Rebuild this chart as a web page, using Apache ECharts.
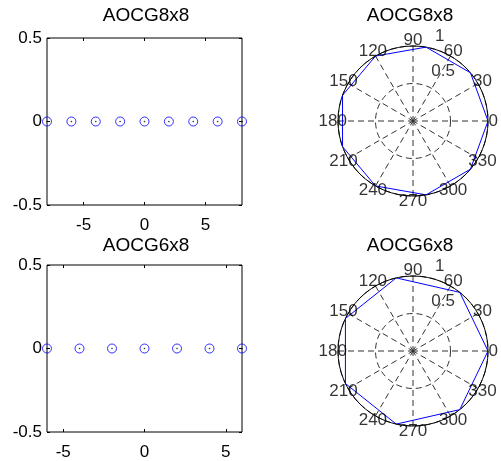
<!DOCTYPE html>
<html>
<head>
<meta charset="utf-8">
<script src="https://cdn.jsdelivr.net/npm/echarts@6/dist/echarts.min.js"></script>
<style>
  html, body { margin: 0; padding: 0; background: #fff; }
  #main { width: 501px; height: 461px; }
</style>
</head>
<body>
<div id="main"></div>
<script>
// values
const titles = ['AOCG8x8', 'AOCG6x8'];

const xTop = [-8, -6, -4, -2, 0, 2, 4, 6, 8];
const yTop = [0, 0, 0, 0, 0, 0, 0, 0, 0];
const xBot = [-6, -4, -2, 0, 2, 4, 6];
const yBot = [0, 0, 0, 0, 0, 0, 0];

const thetaTop = [0, 40, 80, 120, 160, 200, 240, 280, 320, 360];
const rhoTop = [1, 1, 1, 1, 1, 1, 1, 1, 1, 1];
const thetaBot = [0, 51.4, 102.9, 154.3, 205.7, 257.1, 308.6, 360];
const rhoBot = [1, 1, 1, 1, 1, 1, 1, 1];

const xTicks = [-5, 0, 5];
const yTicks = [-0.5, 0, 0.5];
const angleTicks = [0, 30, 60, 90, 120, 150, 180, 210, 240, 270, 300, 330];
const rhoTicks = [0.5, 1];

const font = 'Liberation Sans, Arial, Helvetica, sans-serif';
const fs = 17;

const zip = (a, b) => a.map((v, i) => [v, b[i]]);

// one cartesian panel = bottom/top x axes + left/right y axes, ticks inside
function cartAxes(gi, xmax) {
    const xa = [];
    const ya = [];
    ['bottom', 'top'].forEach(pos => {
        xa.push({
            type: 'value', gridIndex: gi, position: pos, min: -xmax, max: xmax,
            axisLine: { show: false, onZero: false },
            splitLine: { show: false },
            axisTick: { show: true, inside: true, length: 3, customValues: xTicks, lineStyle: { color: '#000' } },
            axisLabel: {
                show: pos === 'bottom', customValues: xTicks, margin: 12,
                color: '#000', fontSize: fs, fontFamily: font
            }
        });
    });
    ['left', 'right'].forEach(pos => {
        ya.push({
            type: 'value', gridIndex: gi, position: pos, min: -0.5, max: 0.5,
            axisLine: { show: false, onZero: false },
            splitLine: { show: false },
            axisTick: { show: true, inside: true, length: 3, customValues: yTicks, lineStyle: { color: '#000' } },
            axisLabel: {
                show: pos === 'left', customValues: yTicks, margin: 5,
                color: '#000', fontSize: fs, fontFamily: font
            }
        });
    });
    return { xa, ya };
}

const c0 = cartAxes(0, 8);
const c1 = cartAxes(1, 6);

function angleAx(pi) {
    return {
        polarIndex: pi, type: 'value', min: 0, max: 360, interval: 30,
        startAngle: 0, clockwise: false,
        axisLine: { show: true, lineStyle: { color: '#000', width: 1 } },
        axisTick: { show: false },
        axisLabel: { show: false },
        splitLine: { show: true, lineStyle: { color: '#333', type: [6, 4], width: 1 } }
    };
}
function radiusAx(pi) {
    return {
        polarIndex: pi, type: 'value', min: 0, max: 1, interval: 0.5,
        axisLine: { show: false },
        axisTick: { show: false },
        axisLabel: { show: false },
        splitLine: { show: true, lineStyle: { color: '#333', type: [6, 4], width: 1 } }
    };
}

const labelText = { color: '#000', fontSize: fs, fontFamily: font };

// angle labels sit centred just outside the rim, like matlab's polar()
function angleLabels(pi) {
    return {
        type: 'scatter', coordinateSystem: 'polar', polarIndex: pi,
        symbolSize: 0, silent: true, clip: false, z: 5,
        label: Object.assign({ show: true, position: 'inside', formatter: p => String(p.value[1]) }, labelText),
        data: angleTicks.map(a => [1.07, a])
    };
}

// ring labels, matlab puts them near 80 deg
const rhoLabelPos = [[0.77, 58.5], [1.18, 72.4]];
function rhoLabels(pi) {
    return {
        type: 'scatter', coordinateSystem: 'polar', polarIndex: pi,
        symbolSize: 0, silent: true, clip: false, z: 5,
        data: rhoTicks.map((r, i) => ({
            value: rhoLabelPos[i],
            label: Object.assign({ show: true, position: 'inside', formatter: String(r) }, labelText)
        }))
    };
}

function markers(xi, yi, data) {
    return [
        {
            type: 'scatter', xAxisIndex: xi, yAxisIndex: yi, data, clip: false,
            symbol: 'circle', symbolSize: 9,
            itemStyle: { color: 'rgba(0,0,0,0)', borderColor: '#0000ff', borderWidth: 1 }
        },
        {
            type: 'scatter', xAxisIndex: xi, yAxisIndex: yi, data, clip: false,
            symbol: 'circle', symbolSize: 1.6,
            itemStyle: { color: '#000' }
        }
    ];
}

const chart = echarts.init(document.getElementById('main'));
chart.setOption({
    animation: false,
    backgroundColor: '#fff',
    title: [
        { text: titles[0], left: 146, top: 6, textAlign: 'center' },
        { text: titles[0], left: 410, top: 6, textAlign: 'center' },
        { text: titles[1], left: 146, top: 236, textAlign: 'center' },
        { text: titles[1], left: 410, top: 236, textAlign: 'center' }
    ].map(t => Object.assign(t, {
        padding: 0,
        textStyle: { fontSize: 19, fontWeight: 'normal', color: '#000', fontFamily: font }
    })),
    grid: [
        { left: 47, top: 38, width: 195, height: 167, show: true, borderColor: '#000', borderWidth: 1 },
        { left: 47, top: 265, width: 195, height: 168, show: true, borderColor: '#000', borderWidth: 1 }
    ],
    xAxis: c0.xa.concat(c1.xa),
    yAxis: c0.ya.concat(c1.ya),
    polar: [
        { center: [413, 121], radius: 75 },
        { center: [413, 351], radius: 75 }
    ],
    angleAxis: [angleAx(0), angleAx(1)],
    radiusAxis: [radiusAx(0), radiusAx(1)],
    series: [
        ...markers(0, 0, zip(xTop, yTop)),
        ...markers(2, 2, zip(xBot, yBot)),
        {
            type: 'line', coordinateSystem: 'polar', polarIndex: 0,
            data: zip(rhoTop, thetaTop), showSymbol: false, z: 4,
            lineStyle: { color: '#0000ff', width: 1 }
        },
        {
            type: 'line', coordinateSystem: 'polar', polarIndex: 1,
            data: zip(rhoBot, thetaBot), showSymbol: false, z: 4,
            lineStyle: { color: '#0000ff', width: 1 }
        },
        angleLabels(0),
        angleLabels(1),
        rhoLabels(0),
        rhoLabels(1)
    ]
});
</script>
</body>
</html>
